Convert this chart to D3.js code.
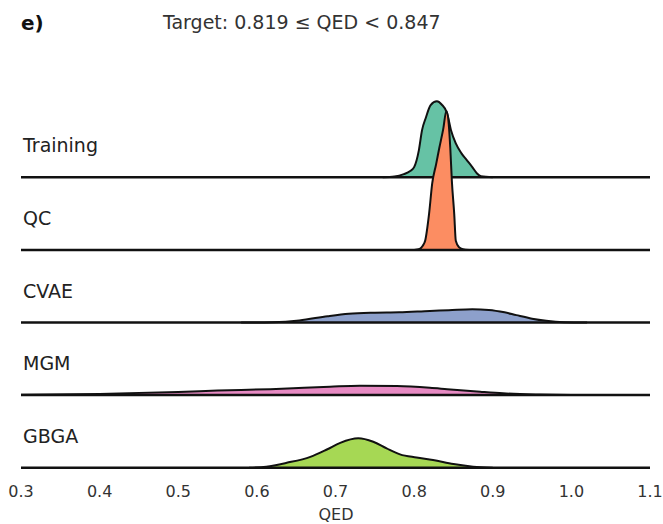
<!DOCTYPE html>
<html>
<head>
<meta charset="utf-8">
<script src="https://cdn.jsdelivr.net/npm/d3@7"></script>
<style>
  body { margin: 0; background: #fff; }
  text { font-family: "DejaVu Sans", sans-serif; }
</style>
</head>
<body>
<div id="chart"></div>
<script>
// ridge rows, top to bottom
var groups = ["Training", "QC", "CVAE", "MGM", "GBGA"];
var colors = ["#66c2a5", "#fc8d62", "#8da0cb", "#e78ac3", "#a6d854"];
var ticks = [0.3, 0.4, 0.5, 0.6, 0.7, 0.8, 0.9, 1.0, 1.1];

// estimated KDE curves (QED, density)
var training = [[0.760,0],[0.775,0.2],[0.787,0.9],[0.795,1.8],[0.800,2.9],[0.806,7.7],[0.810,13.4],
  [0.815,17.1],[0.821,20.6],[0.829,21.7],[0.835,20.8],[0.842,18.3],[0.847,13.4],[0.853,9.7],
  [0.860,6.9],[0.867,4.9],[0.874,2.9],[0.880,1.1],[0.885,0.3],[0.900,0]];
var qc = [[0.800,0],[0.807,0.3],[0.811,1.2],[0.814,2.6],[0.819,10.3],[0.823,19.0],[0.828,24.5],
  [0.832,29.1],[0.837,34.5],[0.841,39.7],[0.844,36],[0.846,29.1],[0.848,19.7],[0.851,10.3],
  [0.853,2.6],[0.857,0.8],[0.862,0.2],[0.870,0]];
var cvae = [[0.580,0],[0.620,0.1],[0.654,0.6],[0.690,1.8],[0.717,2.5],[0.750,2.8],[0.781,2.9],
  [0.820,3.3],[0.844,3.5],[0.874,3.8],[0.895,3.6],[0.915,2.9],[0.930,2.1],[0.950,1.1],
  [0.968,0.5],[0.990,0.1],[1.020,0]];
var mgm = [[0.300,0.1],[0.400,0.35],[0.500,0.9],[0.550,1.3],[0.617,1.7],[0.660,2.1],[0.693,2.4],
  [0.731,2.7],[0.778,2.6],[0.820,2.1],[0.842,1.7],[0.884,0.95],[0.913,0.5],[0.960,0.15],[1.000,0]];
var gbga = [[0.590,0],[0.612,0.3],[0.638,1.4],[0.668,3.1],[0.689,5.2],[0.706,7.1],[0.729,8.4],
  [0.748,7.4],[0.765,5.5],[0.782,3.8],[0.803,2.9],[0.824,2.2],[0.850,1.05],[0.875,0.3],[0.900,0]];
var curves = [training, qc, cvae, mgm, gbga];

var width = 663, height = 524;
var svg = d3.select("#chart").append("svg")
    .attr("width", width)
    .attr("height", height);

var x = d3.scaleLinear().domain([0.3, 1.1]).range([21, 650]);

// each row gets its own baseline
var row = d3.scalePoint().domain(groups).range([177.3, 467.7]);
var dens = d3.scaleLinear().domain([0, 40]).range([0, 140]);

svg.append("defs").append("clipPath").attr("id", "clip")
  .append("rect").attr("x", 21).attr("y", 0).attr("width", 629).attr("height", height);

groups.forEach(function(g, i) {
    var base = row(g);
    var area = d3.area()
        .x(function(d) { return x(d[0]); })
        .y0(base)
        .y1(function(d) { return base - dens(d[1]); })
        .curve(d3.curveMonotoneX);
    var line = area.lineY1();

    var grp = svg.append("g").attr("clip-path", "url(#clip)");
    grp.append("path")
        .datum(curves[i])
        .attr("fill", colors[i])
        .attr("d", area);
    grp.append("path")
        .datum(curves[i])
        .attr("fill", "none")
        .attr("stroke", "#111")
        .attr("stroke-width", 2)
        .attr("d", line);
    svg.append("line")
        .attr("x1", x(0.3)).attr("x2", x(1.1))
        .attr("y1", base).attr("y2", base)
        .attr("stroke", "#111")
        .attr("stroke-width", 2.5);
    svg.append("text")
        .attr("x", 23)
        .attr("y", base - 25)
        .attr("font-size", 19)
        .attr("fill", "#222")
        .text(g);
});

// x axis labels only (no spine)
svg.selectAll(".tick-label")
    .data(ticks)
  .enter().append("text")
    .attr("class", "tick-label")
    .attr("x", function(d) { return x(d); })
    .attr("y", 497)
    .attr("text-anchor", "middle")
    .attr("font-size", 16)
    .attr("fill", "#333")
    .text(function(d) { return d3.format(".1f")(d); });

svg.append("text")
    .attr("x", 336).attr("y", 520)
    .attr("text-anchor", "middle")
    .attr("font-size", 16)
    .attr("fill", "#333")
    .text("QED");

svg.append("text")
    .attr("x", 21).attr("y", 30)
    .attr("font-size", 20)
    .attr("font-weight", "bold")
    .attr("fill", "#111")
    .text("e)");

svg.append("text")
    .attr("x", 163).attr("y", 29)
    .attr("font-size", 19)
    .attr("fill", "#333")
    .text("Target: 0.819 \u2264 QED < 0.847");
</script>
</body>
</html>
